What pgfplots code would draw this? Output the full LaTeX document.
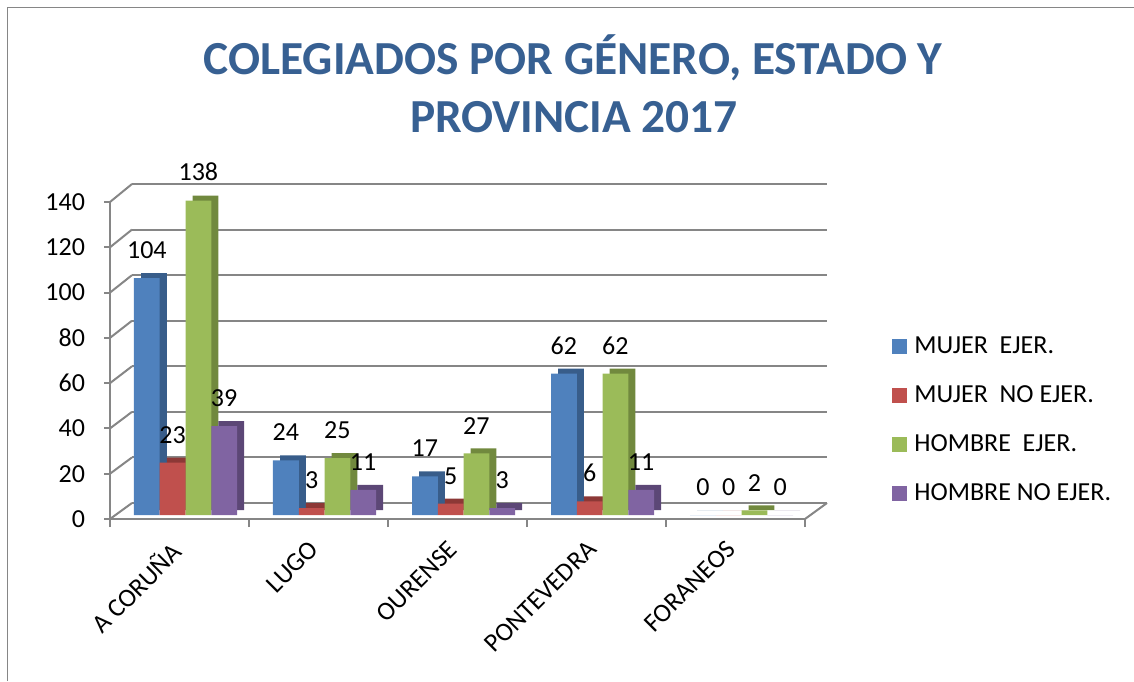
\documentclass[border=0pt]{standalone}
\usepackage{fontspec}
\setmainfont{Carlito}
\usepackage{pgfplots}
\usepackage{pgfplotstable}
\pgfplotsset{compat=1.18}
\definecolor{cBlue}{RGB}{79,129,189}
\definecolor{cBlueD}{RGB}{56,93,138}
\definecolor{cRed}{RGB}{192,80,77}
\definecolor{cRedD}{RGB}{140,56,54}
\definecolor{cGreen}{RGB}{155,187,89}
\definecolor{cGreenD}{RGB}{113,137,62}
\definecolor{cPurple}{RGB}{128,100,162}
\definecolor{cPurpleD}{RGB}{92,71,118}
\definecolor{gridc}{RGB}{134,134,134}
\definecolor{titleblue}{RGB}{55,96,146}

\pgfplotstableread{
x me mne he hne
0 104 23 138 39
1 24 3 25 11
2 17 5 27 3
3 62 6 62 11
4 0 0 2 0
}\datatable

\newcommand{\lblfont}{\fontsize{13}{15.6}\selectfont}
\pgfplotsset{
  base/.style={scale only axis, width=347.5pt, xmin=-0.5, xmax=4.5, ymin=0, ymax=140,
    clip=false, anchor=south west, /pgf/number format/assume math mode=true},
}

\begin{document}
\begin{tikzpicture}
\path[use as bounding box] (0,0) rectangle (567pt,340.5pt);
% outer frame
\draw[gridc, line width=0.75pt] (3.75pt,0) -- (3.75pt,336.75pt) -- (567pt,336.75pt);
% title
\node[anchor=base, font=\fontsize{23.7}{28}\selectfont\bfseries, text=titleblue] at (286.5pt,303pt) {COLEGIADOS POR GÉNERO, ESTADO Y};
\node[anchor=base, font=\fontsize{23.7}{28}\selectfont\bfseries, text=titleblue] at (287pt,274pt) {PROVINCIA 2017};

% back wall
\begin{axis}[base, height=159.5pt, at={(66pt,89pt)},
  ytick={0,20,...,140}, xtick=\empty, yticklabels={},
  ymajorgrids, grid style={gridc, line width=1pt},
  axis line style={draw=none}, major tick style={draw=none}]
\addplot[draw=none] coordinates {(0,0)};
\end{axis}

% front frame with y labels
\begin{axis}[base, height=158.5pt, at={(55pt,81pt)},
  axis x line=bottom, axis y line=left,
  axis line style={-, gridc, line width=1pt},
  ytick={0,20,...,140}, tick align=outside, major tick length=3pt,
  tick style={gridc, line width=1pt},
  yticklabel style={font=\lblfont, xshift=-6pt},
  xtick={-0.5,0.5,...,4.5}, xticklabels={},
  xtick style={/pgfplots/major tick length=4pt}]
\addplot[draw=none] coordinates {(0,0)};
\pgfplotsinvokeforeach{0,20,...,140}{
  \draw[gridc, line width=1pt] (axis cs:-0.5,#1) -- ++(11pt,{(8+#1/140)*1pt});
}
\draw[gridc, line width=1pt] (axis cs:4.5,0) -- ++(11pt,8pt);
\end{axis}

% depth (dark) faces
\begin{axis}[base, height=159.5pt, at={(61.5pt,85.5pt)}, hide axis, ybar]
\addplot[fill=cBlueD, draw=none, bar width=12.875pt, bar shift=-19.3125pt] table[x=x,y=me]{\datatable};
\addplot[fill=cRedD, draw=none, bar width=12.875pt, bar shift=-6.4375pt] table[x=x,y=mne]{\datatable};
\addplot[fill=cGreenD, draw=none, bar width=12.875pt, bar shift=6.4375pt] table[x=x,y=he]{\datatable};
\addplot[fill=cPurpleD, draw=none, bar width=12.875pt, bar shift=19.3125pt] table[x=x,y=hne]{\datatable};
\end{axis}

% front faces, labels, legend
\begin{axis}[base, height=159.5pt, at={(58pt,83pt)}, ybar,
  axis line style={draw=none}, ytick=\empty,
  xtick={0,...,4}, xtick style={draw=none},
  xticklabels={A CORUÑA,LUGO,OURENSE,PONTEVEDRA,FORANEOS},
  xticklabel style={font=\lblfont, rotate=45, anchor=north east, xshift=-7.9pt, yshift=3.9pt},
  nodes near coords,
  nodes near coords style={font=\lblfont, text=black, anchor=south, inner sep=0pt, yshift=9.5pt},
  legend cell align=left,
  legend image code/.code={\fill[#1] (0pt,-3.75pt) rectangle (7.5pt,3.75pt);},
  legend style={at={(1.1165,0.572)}, anchor=north west, draw=none, fill=none,
    inner sep=0pt, row sep=10.6pt, font=\lblfont,
    /tikz/every odd column/.append style={column sep=1.5pt}}]
\addplot[fill=cBlue, draw=none, bar width=12.875pt, bar shift=-19.3125pt] table[x=x,y=me]{\datatable};
\addplot[fill=cRed, draw=none, bar width=12.875pt, bar shift=-6.4375pt] table[x=x,y=mne]{\datatable};
\addplot[fill=cGreen, draw=none, bar width=12.875pt, bar shift=6.4375pt] table[x=x,y=he]{\datatable};
\addplot[fill=cPurple, draw=none, bar width=12.875pt, bar shift=19.3125pt] table[x=x,y=hne]{\datatable};
\legend{MUJER\ \ EJER., MUJER\ \ NO EJER., HOMBRE\ \ EJER., HOMBRE NO EJER.}
\end{axis}
\end{tikzpicture}
\end{document}
